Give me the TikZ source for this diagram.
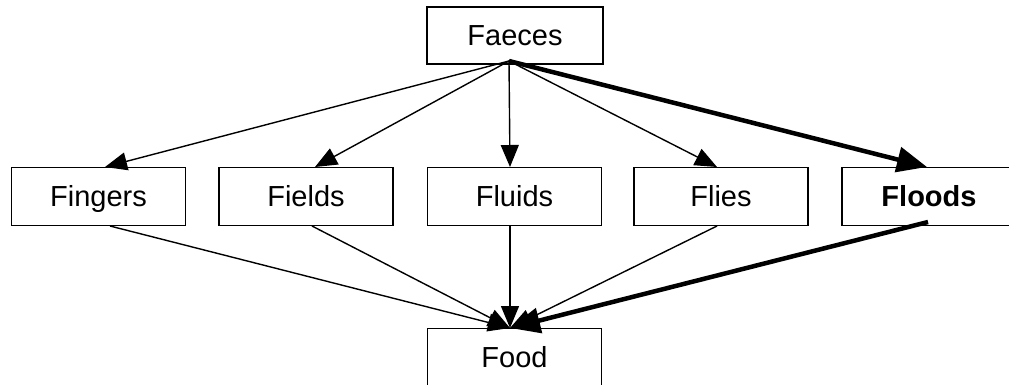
\documentclass[tikz,border=0pt]{standalone}
\usepackage{fontspec}
\setmainfont{Liberation Sans}
\usetikzlibrary{arrows.meta}
\begin{document}
\begin{tikzpicture}[x=1pt,y=-1pt,
  box/.style={draw, line width=1.5pt, minimum width=174pt, minimum height=58pt, inner sep=0pt, text height=20.8pt, text depth=0pt, font=\fontsize{29}{31}\selectfont},
  thinarrow/.style={line width=1.4pt, -{Triangle[length=22pt,width=18pt]}},
  thickarrow/.style={line width=4.5pt, -{Triangle[length=30pt,width=25pt]}}]
\useasboundingbox[fill=white] (0,0) rectangle (1009,385);
% boxes
\node[box, minimum width=176pt, minimum height=57pt] (faeces) at (515,35.5) {Faeces};
\node[box] (fingers) at (98.5,196.5) {Fingers};
\node[box] (fields) at (306,196.5) {Fields};
\node[box] (fluids) at (514.5,196.5) {Fluids};
\node[box] (flies) at (721,196.5) {Flies};
\node[box] (floods) at (929,196.5) {\bfseries Floods};
\node[box] (food) at (514.5,357.5) {Food};
% connector points
\coordinate (src) at (509,61);
\coordinate (tfingers) at (105,167);
\coordinate (tfields) at (315,167);
\coordinate (tfluids) at (510,167);
\coordinate (tflies) at (717,167);
\coordinate (tfloods) at (927,167);
\coordinate (bfingers) at (110,226);
\coordinate (bfields) at (312,226);
\coordinate (bfluids) at (510,226);
\coordinate (bflies) at (717,226);
\coordinate (bfloods) at (928,222);
\coordinate (foodin) at (510,328);
% connectors
\draw[thinarrow] (src) -- (tfingers);
\draw[thinarrow] (src) -- (tfields);
\draw[thinarrow] (src) -- (tfluids);
\draw[thinarrow] (src) -- (tflies);
\draw[thinarrow] (bfingers) -- (foodin);
\draw[thinarrow] (bfields) -- (foodin);
\draw[thinarrow] (bfluids) -- (foodin);
\draw[thinarrow] (bflies) -- (foodin);
\draw[thickarrow] (src) -- (tfloods);
\draw[thickarrow] (bfloods) -- (foodin);
\end{tikzpicture}
\end{document}
